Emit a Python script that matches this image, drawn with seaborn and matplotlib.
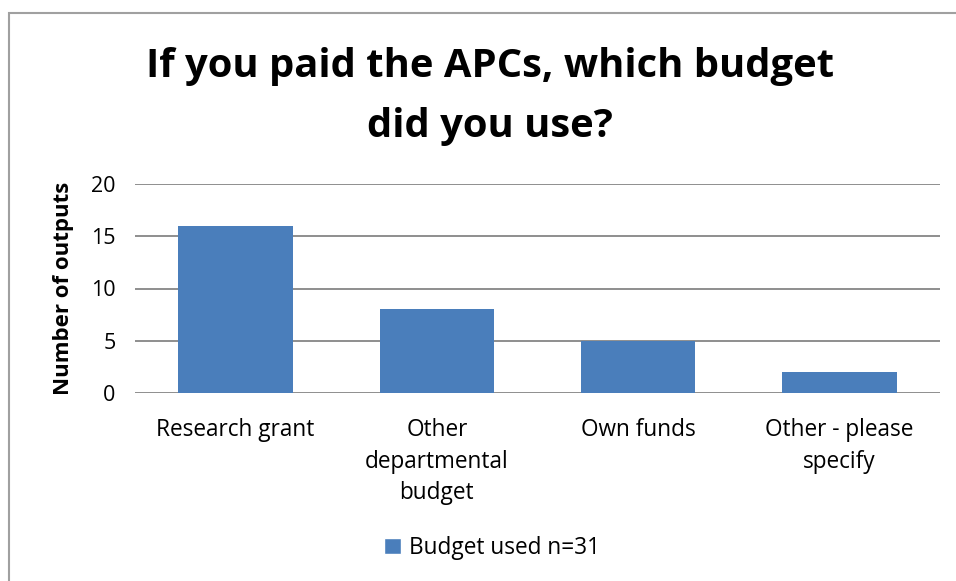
import matplotlib
matplotlib.use("Agg")
import matplotlib.pyplot as plt
import seaborn as sns
import pandas as pd
from matplotlib.patches import Rectangle, Patch

categories = ["Research grant", "Other\ndepartmental\nbudget", "Own funds", "Other - please\nspecify"]
values = [16, 8, 5, 2]
series_name = "Budget used n=31"
yticks = [0, 5, 10, 15, 20]

sns.set_theme(style="white")
plt.rcParams['font.family'] = ['Open Sans', 'DejaVu Sans']
plt.rcParams['text.color'] = 'black'
plt.rcParams['xtick.color'] = 'black'
plt.rcParams['ytick.color'] = 'black'
plt.rcParams['axes.labelcolor'] = 'black'

df = pd.DataFrame({"cat": categories, "val": values})

fig = plt.figure(figsize=(9.56, 5.81), dpi=100)
ax = fig.add_axes([135/956, 1-393/581, (940-135)/956, (393-184)/581])

sns.barplot(data=df, x="cat", y="val", color="#4A7EBB", saturation=1, width=0.57, ax=ax,
            zorder=3, linewidth=0)

ax.set_ylim(0, 20)
ax.set_yticks(yticks)
ax.set_yticklabels([str(t) for t in yticks], fontsize=15.5)
ax.set_xlim(-0.5, 3.5)
ax.grid(axis="y", color="#868686", linewidth=1.3, zorder=0)
ax.set_axisbelow(True)
for s in ax.spines.values():
    s.set_visible(False)
ax.tick_params(axis="both", length=0)
ax.tick_params(axis="x", pad=18)
ax.tick_params(axis="y", pad=14)
ax.set_xticks(range(len(categories)))
ax.set_xticklabels(categories, fontsize=16.3, linespacing=1.42, va="top")
ax.set_xlabel("")
ax.set_ylabel("Number of outputs", fontsize=16, fontweight="bold", labelpad=12)

fig.text(490/956, 1-97/581, "If you paid the APCs, which budget\ndid you use?", ha="center", va="center",
         fontsize=28.8, fontweight="bold", linespacing=1.7)

leg = fig.legend(handles=[Patch(facecolor="#4A7EBB", label=series_name)], loc="center",
                 bbox_to_anchor=(492/956, 1-548/581), frameon=False, fontsize=16.3,
                 handlelength=0.75, handleheight=0.75, handletextpad=0.35)

fig.patches.append(Rectangle((9/956, -0.1), 1.2, 1-13/581+0.1, transform=fig.transFigure,
                             fill=False, edgecolor="#A0A0A0", linewidth=1.5))

fig.savefig("out.png", dpi=100)
